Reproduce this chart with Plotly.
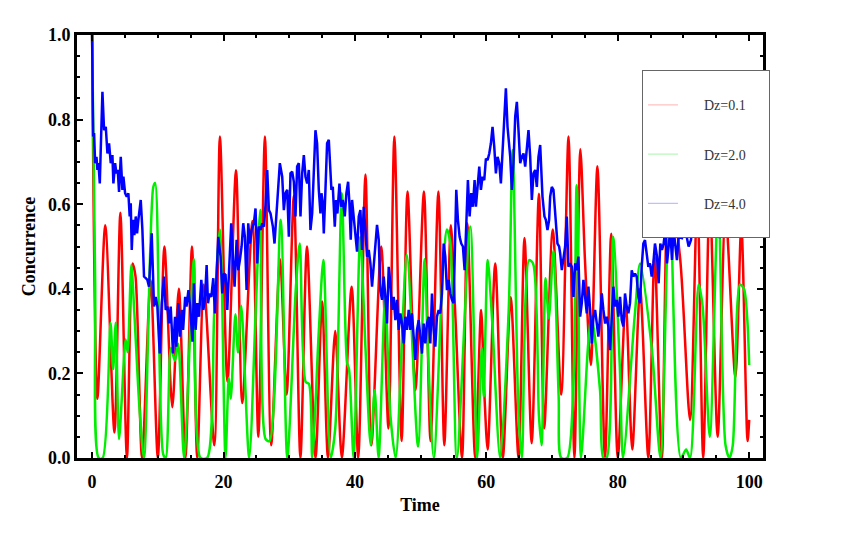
import plotly.graph_objects as go

# Dz = 0.1 (smooth, read at peaks and troughs)
red_t = [0, 0.8, 2.0, 3.4, 4.3, 5.3, 6.15, 6.6, 7.6, 8.9, 10.0, 11.0, 12.2, 13.2, 14.2,
         15.2, 16.0, 17.0, 18.6, 19.45, 20.6, 21.9, 22.85, 24.4, 25.3, 26.3, 27.25, 28.6,
         29.6, 30.7, 31.7, 32.7, 34.0, 35.0, 35.9, 37.0, 38.0, 39.5, 40.5, 41.6, 42.5,
         44.0, 45.1, 46.0, 47.1, 48.0, 49.2, 50.5, 51.5, 52.7, 53.6, 54.6, 55.3, 56.3,
         57.1, 58.3, 59.2, 59.7, 60.2, 61.35, 62.5, 63.7, 64.9, 65.8, 66.9, 68.0, 68.8,
         70.1, 71.4, 72.5, 73.4, 74.3, 75.0, 75.9, 76.9, 78.05, 79.0, 80.0, 81.2, 82.2,
         83.4, 84.65, 85.6, 86.7, 87.8, 89.5, 91.0, 92.1, 93.0, 94.0, 95.2, 96.4, 97.9,
         98.8, 99.75, 100]
red_v = [1.0, 0.14, 0.55, 0.06, 0.58, 0.0, 0.46, 0.43, 0.0, 0.42, 0.0, 0.50, 0.12, 0.40, 0.0,
         0.50, 0.0, 0.41, 0.03, 0.76, 0.18, 0.68, 0.13, 0.56, 0.05, 0.76, 0.03, 0.47,
         0.15, 0.62, 0.0, 0.50, 0.0, 0.37, 0.0, 0.30, 0.0, 0.405, 0.0, 0.67, 0.03,
         0.50, 0.07, 0.76, 0.04, 0.63, 0.16, 0.63, 0.04, 0.63, 0.03, 0.55, 0.33, 0.0,
         0.555, 0.0, 0.35, 0.15, 0.02, 0.46, 0.0, 0.38, 0.0, 0.52, 0.035, 0.625, 0.07,
         0.54, 0.15, 0.76, 0.0, 0.73, 0.47, 0.22, 0.69, 0.0, 0.53, 0.0, 0.37, 0.02,
         0.40, 0.0, 0.48, 0.0, 0.66, 0.47, 0.09, 0.62, 0.0, 0.62, 0.05, 0.58, 0.19,
         0.55, 0.04, 0.09]

# Dz = 2.0
green_t = [0, 0.46, 1.0, 1.6, 2.8, 3.2, 3.6, 4.1, 5.1, 5.4, 5.97, 6.4, 7.2, 7.9, 9.3, 9.6,
           10.8, 11.2, 12.0, 12.6, 13.1, 14.0, 15.5, 16.5, 17.5, 18.6, 19.45, 20.3, 20.8,
           21.1, 21.8, 22.2, 22.7, 23.9, 24.9, 25.6, 26.4, 27.0, 28.7, 29.7, 31.0, 31.6,
           32.5, 33.0, 33.5, 34.5, 35.2, 36.3, 37.0, 38.0, 38.8, 39.1, 39.8, 40.8, 41.6,
           42.4, 43.0, 43.6, 44.6, 45.4, 46.2, 47.9, 49.6, 50.6, 51.1, 52.0, 53.4, 54.0,
           54.5, 55.5, 57.55, 58.6, 59.3, 59.6, 60.2, 60.9, 62.1, 63.4, 64.0, 64.9, 65.4,
           66.5, 67.1, 68.0, 68.4, 69.0, 69.5, 70.2, 71.0, 71.4, 72.3, 73.75, 74.4, 75.5,
           76.0, 77.3, 77.8, 78.3, 79.3, 80.3, 80.8, 82.6, 83.4, 85.2, 86.5, 87.9, 89.6,
           90.4, 91.0, 92.3, 92.9, 94.0, 95.3, 96.4, 97.0, 97.5, 98.6, 99.2, 99.7, 100]
green_v = [1.0, 0.42, 0.0, 0.0, 0.32, 0.21, 0.32, 0.045, 0.28, 0.25, 0.456, 0.35, 0.12, 0.0, 0.64, 0.65,
           0.01, 0.0, 0.26, 0.23, 0.27, 0.0, 0.47, 0.0, 0.0, 0.35, 0.54, 0.0, 0.19,
           0.14, 0.34, 0.25, 0.36, 0.0, 0.35, 0.586, 0.045, 0.04, 0.563, 0.0, 0.40, 0.507,
           0.18, 0.175, 0.0, 0.30, 0.468, 0.0, 0.07, 0.626, 0.225, 0.21, 0.0, 0.523, 0.26,
           0.03, 0.16, 0.0, 0.38, 0.1, 0.0, 0.48, 0.027, 0.47, 0.255, 0.0, 0.45, 0.54,
           0.51, 0.0, 0.547, 0.0, 0.26, 0.145, 0.468, 0.32, 0.0, 0.35, 0.728, 0.1, 0.0,
           0.468, 0.46, 0.1, 0.03, 0.425, 0.33, 0.49, 0.145, 0.0, 0.0, 0.645, 0.0, 0.27,
           0.334, 0.16, 0.0, 0.0, 0.523, 0.22, 0.0, 0.34, 0.46, 0.255, 0.0, 0.62, 0.0,
           0.02, 0.0, 0.41, 0.36, 0.05, 0.62, 0.03, 0.0, 0.03, 0.41, 0.40, 0.33, 0.22]

# Dz = 4.0 (noisy, read point by point)
blue_t = [0, 0.15, 0.30, 0.46, 0.66, 0.81, 0.96, 1.17, 1.37, 1.57, 1.82, 2.08, 2.33, 2.58,
          2.84, 3.09, 3.24, 3.5, 3.70, 3.90, 4.10, 4.36, 4.61, 4.76, 5.02, 5.27, 5.52,
          5.72, 5.88, 6.03, 6.23, 6.43, 6.64, 6.84, 7.04, 7.40, 7.65, 7.90, 8.16, 8.41,
          8.66, 9.07, 9.42, 9.68, 9.93, 10.29, 10.6, 10.94, 11.2, 11.47, 11.7, 11.96,
          12.31, 12.62, 12.82, 13.12, 13.35, 13.65, 13.85, 14.16, 14.36, 14.66, 14.92,
          15.27, 15.5, 15.75, 16.0, 16.26, 16.62, 16.92, 17.17, 17.43, 17.63, 17.88,
          18.14, 18.44, 18.69, 19.05, 19.2, 19.55, 19.81, 20.06, 20.31, 20.57, 20.87,
          21.17, 21.48, 21.68, 21.99, 22.24, 22.49, 22.75, 23.0, 23.25, 23.51, 23.76,
          24.01, 24.27, 24.62, 24.87, 25.13, 25.38, 25.63, 25.89, 26.14, 26.39, 26.65,
          26.9, 27.15, 27.51, 27.76, 28.01, 28.27, 28.57, 28.93, 29.18, 29.43, 29.69,
          29.94, 30.19, 30.45, 30.7, 30.95, 31.2, 31.46, 31.71, 31.97, 32.22, 32.47,
          32.73, 32.98, 33.23, 33.49, 33.74, 33.99, 34.24, 34.5, 34.75, 34.9, 35.11,
          35.26, 35.51, 35.76, 36.02, 36.27, 36.42, 36.63, 36.93, 37.13, 37.33, 37.64,
          37.89, 38.15, 38.45, 38.7, 38.96, 39.16, 39.36, 39.56, 39.82, 40.07, 40.32,
          40.58, 40.83, 41.08, 41.34, 41.59, 41.84, 42.1, 42.35, 42.6, 42.86, 43.11,
          43.36, 43.62, 43.87, 44.12, 44.38, 44.63, 44.88, 45.14, 45.39, 45.64, 45.9,
          46.15, 46.4, 46.66, 46.91, 47.16, 47.42, 47.67, 47.92, 48.18, 48.43, 48.68,
          48.94, 49.19, 49.44, 49.7, 49.95, 50.2, 50.46, 50.71, 50.96, 51.22, 51.47,
          51.72, 51.98, 52.23, 52.48, 52.74, 52.99, 53.24, 53.5, 53.75, 54.0, 54.26,
          54.51, 54.76, 55.02, 55.27, 55.42, 55.67, 55.93, 56.18, 56.43, 56.69, 56.94,
          57.19, 57.45, 57.7, 57.95, 58.21, 58.41, 58.66, 58.92, 59.17, 59.42, 59.68,
          59.93, 60.18, 60.44, 60.69, 60.94, 61.2, 61.45, 61.7, 61.96, 62.21, 62.46,
          62.72, 62.97, 63.22, 63.48, 63.63, 63.88, 64.13, 64.39, 64.64, 64.89, 65.15,
          65.4, 65.65, 65.91, 66.16, 66.41, 66.67, 66.92, 67.17, 67.43, 67.68, 67.93,
          68.19, 68.34, 68.54, 68.84, 69.05, 69.3, 69.55, 69.71, 69.96, 70.21, 70.36,
          70.57, 70.82, 71.07, 71.23, 71.48, 71.73, 71.99, 72.24, 72.49, 72.75, 73.0,
          73.25, 73.51, 73.76, 74.01, 74.27, 74.52, 74.77, 75.03, 75.28, 75.53, 75.79,
          76.04, 76.29, 76.55, 76.8, 77.05, 77.31, 77.56, 77.81, 78.07, 78.32, 78.57,
          78.83, 79.08, 79.33, 79.59, 79.84, 80.09, 80.35, 80.6, 80.85, 81.1, 81.36,
          81.61, 81.86, 82.12, 82.37, 82.62, 82.88, 83.13, 83.38, 83.64, 83.89, 84.14,
          84.4, 84.65, 84.9, 85.16, 85.41, 85.66, 85.97, 86.22, 86.47, 86.73, 86.98,
          87.23, 87.49, 87.74, 87.99, 88.25, 88.5, 89.0, 89.26, 89.77, 90.27, 90.78,
          91.13, 91.6, 92.2, 92.8, 93.5, 94.2, 95.0, 95.5, 96.2, 96.9, 97.6, 98.3, 99.0,
          99.6, 100]
blue_v = [1.0, 0.76, 0.768, 0.697, 0.712, 0.681, 0.697, 0.649, 0.76, 0.866, 0.775, 0.783, 0.72, 0.744,
          0.697, 0.716, 0.649, 0.697, 0.673, 0.681, 0.629, 0.712, 0.634, 0.665, 0.626, 0.618, 0.626,
          0.571, 0.602, 0.492, 0.563, 0.527, 0.571, 0.531, 0.563, 0.61, 0.54, 0.429, 0.425, 0.421,
          0.405, 0.531, 0.358, 0.381, 0.358, 0.247, 0.366, 0.429, 0.35, 0.358, 0.318, 0.358,
          0.247, 0.334, 0.263, 0.366, 0.287, 0.35, 0.303, 0.381, 0.358, 0.397, 0.358,
          0.275, 0.413, 0.303, 0.366, 0.334, 0.421, 0.35, 0.374, 0.456, 0.366, 0.389,
          0.381, 0.425, 0.342, 0.476, 0.523, 0.476, 0.389, 0.436, 0.433, 0.35, 0.476,
          0.555, 0.46, 0.405, 0.516, 0.444, 0.468, 0.5, 0.555, 0.523, 0.397, 0.555,
          0.507, 0.539, 0.555, 0.59, 0.46, 0.547, 0.539, 0.555, 0.547, 0.598, 0.681,
          0.586, 0.578, 0.547, 0.507, 0.571, 0.641, 0.697, 0.665, 0.586, 0.626, 0.634,
          0.523, 0.673, 0.677, 0.653, 0.571, 0.689, 0.697, 0.571, 0.673, 0.716, 0.665,
          0.649, 0.681, 0.539, 0.578, 0.673, 0.775, 0.744, 0.634, 0.578, 0.626, 0.602,
          0.531, 0.634, 0.744, 0.752, 0.681, 0.634, 0.641, 0.547, 0.61, 0.578, 0.649,
          0.594, 0.61, 0.571, 0.626, 0.653, 0.602, 0.516, 0.61, 0.571, 0.531, 0.488,
          0.571, 0.586, 0.492, 0.594, 0.539, 0.476, 0.492, 0.46, 0.405, 0.46, 0.492,
          0.551, 0.516, 0.397, 0.374, 0.429, 0.381, 0.318, 0.452, 0.413, 0.35, 0.381,
          0.326, 0.374, 0.303, 0.342, 0.318, 0.271, 0.334, 0.303, 0.35, 0.303, 0.342,
          0.271, 0.232, 0.303, 0.326, 0.287, 0.247, 0.318, 0.271, 0.318, 0.334, 0.271,
          0.389, 0.303, 0.263, 0.334, 0.35, 0.342, 0.389, 0.507, 0.476, 0.397, 0.421,
          0.389, 0.374, 0.366, 0.563, 0.634, 0.563, 0.523, 0.507, 0.5, 0.444, 0.563,
          0.657, 0.571, 0.626, 0.594, 0.657, 0.594, 0.641, 0.689, 0.634, 0.665, 0.657,
          0.708, 0.704, 0.72, 0.744, 0.783, 0.736, 0.673, 0.712, 0.697, 0.649, 0.72,
          0.815, 0.874, 0.783, 0.736, 0.712, 0.634, 0.697, 0.807, 0.842, 0.775, 0.697,
          0.712, 0.72, 0.689, 0.736, 0.775, 0.712, 0.61, 0.673, 0.681, 0.641, 0.712,
          0.74, 0.697, 0.618, 0.571, 0.563, 0.539, 0.563, 0.618, 0.641, 0.634, 0.602,
          0.539, 0.507, 0.5, 0.484, 0.444, 0.468, 0.5, 0.571, 0.452, 0.46, 0.452,
          0.381, 0.46, 0.444, 0.476, 0.334, 0.366, 0.421, 0.374, 0.342, 0.405, 0.35,
          0.271, 0.334, 0.35, 0.318, 0.287, 0.334, 0.389, 0.35, 0.318, 0.334, 0.311,
          0.255, 0.334, 0.405, 0.358, 0.374, 0.334, 0.381, 0.326, 0.311, 0.389, 0.358,
          0.342, 0.366, 0.444, 0.429, 0.436, 0.429, 0.381, 0.366, 0.452, 0.507, 0.515,
          0.476, 0.452, 0.46, 0.429, 0.46, 0.507, 0.476, 0.413, 0.507, 0.492, 0.507,
          0.54, 0.46, 0.507, 0.54, 0.468, 0.54, 0.468, 0.523, 0.52, 0.54, 0.5,
          0.515, 0.58, 0.62, 0.56, 0.6, 0.65, 0.58, 0.52, 0.6, 0.66, 0.6, 0.64, 0.58,
          0.62, 0.6]

series_names = ["Dz=0.1", "Dz=2.0", "Dz=4.0"]
line_colors = ["#ff0000", "#00ee00", "#0000ff"]
legend_colors = ["#ffb0b0", "#a8f5a8", "#b0b0ff"]

serif = "Liberation Serif, Times New Roman, serif"
pad_left = "&nbsp;" * 6
pad_right = "&nbsp;" * 5

fig = go.Figure()

fig.add_trace(go.Scatter(x=red_t, y=red_v, mode="lines", line_shape="spline",
                         line=dict(color=line_colors[0], width=2.5, smoothing=0.8),
                         showlegend=False))
fig.add_trace(go.Scatter(x=green_t, y=green_v, mode="lines", line_shape="spline",
                         line=dict(color=line_colors[1], width=2.5, smoothing=0.8),
                         showlegend=False))
fig.add_trace(go.Scatter(x=blue_t, y=blue_v, mode="lines",
                         line=dict(color=line_colors[2], width=2.5),
                         showlegend=False))

# legend entries (thin, pale lines as in the original)
for i, name in enumerate(series_names):
    label = pad_left + name + pad_right
    if i == len(series_names) - 1:
        label += "<br>&nbsp;"
    fig.add_trace(go.Scatter(x=[None], y=[None], mode="lines",
                             line=dict(color=legend_colors[i], width=1),
                             name=label, legendgroup=name))

# the page body adds an 8px offset, so margins are shifted to compensate
fig.update_layout(
    width=852,
    height=533,
    margin=dict(l=69, r=97, t=27, b=83, autoexpand=False),
    paper_bgcolor="white",
    plot_bgcolor="white",
    font=dict(family=serif, color="black"),
    legend=dict(
        x=0.8236, y=0.917, xanchor="left", yanchor="top",
        bgcolor="white", bordercolor="#666666", borderwidth=1,
        font=dict(family=serif, size=14, color="#333333"),
        tracegroupgap=28, valign="top",
        title=dict(text="&nbsp;", font=dict(size=14)),
    ),
)

fig.update_xaxes(
    range=[-2.3, 102.1],
    tickvals=[0, 20, 40, 60, 80, 100],
    ticks="inside", ticklen=6, tickwidth=2, tickcolor="black",
    minor=dict(dtick=5, ticks="inside", ticklen=3, tickwidth=1.5, tickcolor="black"),
    showline=True, linewidth=3, linecolor="black", mirror="ticks",
    showgrid=False, zeroline=False, automargin=False,
    tickfont=dict(family=serif, size=18, weight="bold"),
    ticklabelstandoff=5,
    title=dict(text="Time", font=dict(family=serif, size=18, weight="bold"), standoff=8),
)

fig.update_yaxes(
    range=[0, 1],
    dtick=0.2, tickformat=".1f",
    ticks="inside", ticklen=6, tickwidth=2, tickcolor="black",
    minor=dict(dtick=0.05, ticks="inside", ticklen=3, tickwidth=1.5, tickcolor="black"),
    showline=True, linewidth=3, linecolor="black", mirror="ticks",
    showgrid=False, zeroline=False, automargin=False,
    tickfont=dict(family=serif, size=18, weight="bold"),
    ticklabelstandoff=0,
    title=dict(text="Concurrence", font=dict(family=serif, size=18, weight="bold"), standoff=8),
)

fig.write_html("out.html")
